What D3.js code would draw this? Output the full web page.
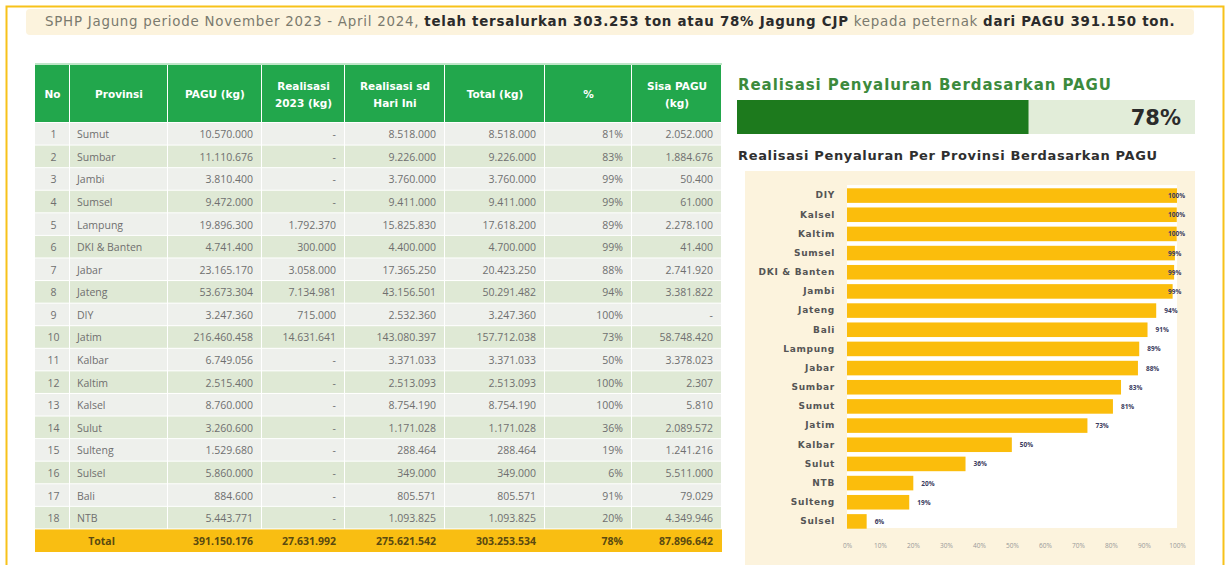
<!DOCTYPE html>
<meta charset="utf-8">
<html>
<head>
<title>SPHP Jagung</title>
<script src="https://cdn.jsdelivr.net/npm/d3@7"></script>
<style>
  body { margin: 0; background: #fff; }
  svg { display: block; font-family: "Open Sans", "DejaVu Sans", sans-serif; }
</style>
</head>
<body>
<script>

// table data (kg)
var provinsi = ["Sumut", "Sumbar", "Jambi", "Sumsel", "Lampung", "DKI & Banten", "Jabar", "Jateng", "DIY",
                "Jatim", "Kalbar", "Kaltim", "Kalsel", "Sulut", "Sulteng", "Sulsel", "Bali", "NTB"];
var pagu = [10570000, 11110676, 3810400, 9472000, 19896300, 4741400, 23165170, 53673304, 3247360,
            216460458, 6749056, 2515400, 8760000, 3260600, 1529680, 5860000, 884600, 5443771];
var realisasi2023 = [null, null, null, null, 1792370, 300000, 3058000, 7134981, 715000,
                     14631641, null, null, null, null, null, null, null, null];
var realisasiSd = [8518000, 9226000, 3760000, 9411000, 15825830, 4400000, 17365250, 43156501, 2532360,
                   143080397, 3371033, 2513093, 8754190, 1171028, 288464, 349000, 805571, 1093825];
var totalKg = [8518000, 9226000, 3760000, 9411000, 17618200, 4700000, 20423250, 50291482, 3247360,
               157712038, 3371033, 2513093, 8754190, 1171028, 288464, 349000, 805571, 1093825];
var persen = [81, 83, 99, 99, 89, 99, 88, 94, 100, 73, 50, 100, 100, 36, 19, 6, 91, 20];
var sisaPagu = [2052000, 1884676, 50400, 61000, 2278100, 41400, 2741920, 3381822, null,
                58748420, 3378023, 2307, 5810, 2089572, 1241216, 5511000, 79029, 4349946];
var totalRow = [391150176, 27631992, 275621542, 303253534, 78, 87896642];

var headers = [["No"], ["Provinsi"], ["PAGU (kg)"], ["Realisasi", "2023 (kg)"], ["Realisasi sd", "Hari Ini"],
               ["Total (kg)"], ["%"], ["Sisa PAGU", "(kg)"]];
var xTicks = [0, 0.1, 0.2, 0.3, 0.4, 0.5, 0.6, 0.7, 0.8, 0.9, 1];

var width = 1227, height = 565;
var wide = "\"DejaVu Sans\", sans-serif";
var idn = d3.formatLocale({decimal: ",", thousands: ".", grouping: [3], currency: ["", ""]});
var fmt = function(v) { return v == null ? "-" : idn.format(",")(v); };

// stretch a text to a given width with letter-spacing
function fit(sel, target) {
    var w = sel.node().getComputedTextLength();
    var n = sel.text().length;
    sel.attr("letter-spacing", ((target - w) / n).toFixed(2));
}

var svg = d3.select("body").append("svg")
    .attr("width", width)
    .attr("height", height);

// outer frame
svg.append("path")
    .attr("d", "M6.5," + height + "V6.5H1223.5V" + height)
    .attr("fill", "none")
    .attr("stroke", "#f7c21a")
    .attr("stroke-width", 2);

// banner
svg.append("rect")
    .attr("x", 26).attr("y", 9).attr("width", 1168).attr("height", 26).attr("rx", 4)
    .attr("fill", "#fcf3dd");

var banner = svg.append("text")
    .attr("x", 45).attr("y", 26)
    .style("font-size", "13.4px")
    .style("font-family", wide)
    .attr("fill", "#7a7a6e");
banner.append("tspan").text("SPHP Jagung periode November 2023 - April 2024, ");
banner.append("tspan").attr("font-weight", "bold").attr("fill", "#2b2b2b")
    .text("telah tersalurkan 303.253 ton atau 78% Jagung CJP");
banner.append("tspan").text(" kepada peternak ");
banner.append("tspan").attr("font-weight", "bold").attr("fill", "#2b2b2b")
    .text("dari PAGU 391.150 ton.");
fit(banner, 1130);

// ---------- table ----------
var colEdges = [35, 70, 168, 262, 345, 445, 545, 632, 722];
var headerTop = 65, headerBottom = 123;

var rowScale = d3.scaleBand()
    .domain(d3.range(provinsi.length + 1))
    .range([headerBottom, 552])
    .paddingInner(0);

var table = svg.append("g");

table.append("rect")
    .attr("x", colEdges[0]).attr("y", headerTop - 2)
    .attr("width", colEdges[8] - colEdges[0]).attr("height", 2)
    .attr("fill", "#bfe6c8");

table.selectAll(".hcell")
    .data(headers)
    .enter().append("rect")
    .attr("x", function(d, i) { return colEdges[i]; })
    .attr("y", headerTop)
    .attr("width", function(d, i) { return colEdges[i + 1] - colEdges[i] - 1; })
    .attr("height", headerBottom - headerTop - 1)
    .attr("fill", "#22a74c");

table.selectAll(".htext")
    .data(headers)
    .enter().append("text")
    .attr("text-anchor", "middle")
    .attr("fill", "#fff")
    .attr("font-weight", "bold")
    .style("font-size", "10.5px")
    .style("font-family", wide)
    .each(function(d, i) {
        var cx = (colEdges[i] + colEdges[i + 1]) / 2;
        var cy = (headerTop + headerBottom) / 2;
        d3.select(this).selectAll("tspan")
            .data(d)
            .enter().append("tspan")
            .attr("x", cx)
            .attr("y", function(t, j) { return cy + 4 + (j - (d.length - 1) / 2) * 17; })
            .text(function(t) { return t; });
    });

var rows = provinsi.map(function(p, i) {
    return [String(i + 1), p, fmt(pagu[i]), fmt(realisasi2023[i]), fmt(realisasiSd[i]),
            fmt(totalKg[i]), persen[i] + "%", fmt(sisaPagu[i])];
});

var rowG = table.selectAll(".row")
    .data(rows)
    .enter().append("g")
    .attr("transform", function(d, i) { return "translate(0," + rowScale(i) + ")"; });

rowG.selectAll("rect")
    .data(function(d, i) { return d.map(function(v) { return i; }); })
    .enter().append("rect")
    .attr("x", function(d, j) { return colEdges[j]; })
    .attr("width", function(d, j) { return colEdges[j + 1] - colEdges[j] - 1; })
    .attr("height", rowScale.bandwidth() - 1)
    .attr("fill", function(d) { return d % 2 == 0 ? "#eef0ec" : "#dfe9d5"; });

rowG.selectAll("text")
    .data(function(d) { return d; })
    .enter().append("text")
    .attr("x", function(d, j) {
        if (j == 0) return (colEdges[0] + colEdges[1]) / 2 + 1;
        if (j == 1) return colEdges[1] + 7;
        return colEdges[j + 1] - 9;
    })
    .attr("y", rowScale.bandwidth() / 2 + 4)
    .attr("text-anchor", function(d, j) { return j == 0 ? "middle" : j == 1 ? "start" : "end"; })
    .attr("fill", "#6f6f6f")
    .style("font-size", "10.5px")
    .text(function(d) { return d; });

// total row
var tIdx = provinsi.length;
var totalG = table.append("g")
    .datum(["", "Total", fmt(totalRow[0]), fmt(totalRow[1]), fmt(totalRow[2]), fmt(totalRow[3]),
            totalRow[4] + "%", fmt(totalRow[5])])
    .attr("transform", "translate(0," + rowScale(tIdx) + ")");
totalG.append("rect")
    .attr("x", colEdges[0]).attr("width", colEdges[8] - colEdges[0])
    .attr("height", rowScale.bandwidth())
    .attr("fill", "#f9be12");
totalG.selectAll("text")
    .data(function(d) { return d; })
    .enter().append("text")
    .attr("x", function(d, j) { return j == 1 ? (colEdges[0] + colEdges[2]) / 2 : colEdges[j + 1] - 9; })
    .attr("y", rowScale.bandwidth() / 2 + 4)
    .attr("text-anchor", function(d, j) { return j == 1 ? "middle" : "end"; })
    .attr("fill", "#5a4a10")
    .attr("font-weight", "bold")
    .style("font-size", "10.5px")
    .text(function(d) { return d; });

// ---------- right panel ----------
var right = svg.append("g");

var title = right.append("text")
    .attr("x", 738).attr("y", 90)
    .attr("fill", "#3c8a3c")
    .attr("font-weight", "bold")
    .style("font-size", "15px")
    .style("font-family", wide)
    .text("Realisasi Penyaluran Berdasarkan PAGU");
fit(title, 374);

var progX = d3.scaleLinear().domain([0, 1]).range([737, 1113]);
var overall = totalRow[3] / totalRow[0];

right.append("rect")
    .attr("x", 737).attr("y", 100).attr("width", 1195 - 737).attr("height", 34)
    .attr("fill", "#e2edd9");
right.append("rect")
    .attr("x", progX(0)).attr("y", 100)
    .attr("width", progX(overall) - progX(0)).attr("height", 34)
    .attr("fill", "#1d7a1d");
right.append("text")
    .attr("x", 1181).attr("y", 125)
    .attr("text-anchor", "end")
    .attr("font-weight", "bold")
    .attr("fill", "#2b2b2b")
    .style("font-size", "21px")
    .style("font-family", wide)
    .text(d3.format(".0%")(overall));

var subtitle = right.append("text")
    .attr("x", 738).attr("y", 160)
    .attr("fill", "#2f2f2f")
    .attr("font-weight", "bold")
    .style("font-size", "13px")
    .style("font-family", wide)
    .text("Realisasi Penyaluran Per Provinsi Berdasarkan PAGU");
fit(subtitle, 420);

// bar chart
right.append("rect")
    .attr("x", 745).attr("y", 171).attr("width", 450).attr("height", height - 171)
    .attr("fill", "#fcf3dd");

var barData = provinsi.map(function(p, i) {
    return {name: p, ratio: totalKg[i] / pagu[i], label: persen[i] + "%"};
}).sort(function(a, b) { return b.ratio - a.ratio; });

var x = d3.scaleLinear().domain([0, 1]).range([847, 1177]);
var y = d3.scaleBand()
    .domain(barData.map(function(d) { return d.name; }))
    .range([186, 531])
    .paddingInner(0.24)
    .paddingOuter(0.12);

right.append("rect")
    .attr("x", x(0)).attr("y", 185)
    .attr("width", x(1) - x(0)).attr("height", 528 - 185)
    .attr("fill", "#fff");

right.append("g").selectAll("rect")
    .data(barData)
    .enter().append("rect")
    .attr("x", x(0))
    .attr("y", function(d) { return y(d.name); })
    .attr("width", function(d) { return x(d.ratio) - x(0); })
    .attr("height", y.bandwidth())
    .attr("fill", "#fbbd0c");

right.append("g").selectAll("text")
    .data(barData)
    .enter().append("text")
    .attr("x", function(d) { return Math.min(x(d.ratio) + 8, 1168); })
    .attr("y", function(d) { return y(d.name) + y.bandwidth() / 2 + 2.5; })
    .attr("fill", "#3b3b5e")
    .attr("font-weight", "bold")
    .style("font-size", "6.5px")
    .text(function(d) { return d.label; });

var yAxis = right.append("g")
    .attr("transform", "translate(" + (x(0) - 12) + ",0)")
    .call(d3.axisLeft(y).tickSize(0).tickPadding(0));
yAxis.select(".domain").remove();
yAxis.selectAll("text")
    .attr("fill", "#555")
    .attr("font-weight", "bold")
    .style("font-size", "9px")
    .style("font-family", wide)
    .attr("letter-spacing", 0.7);

var xAxis = right.append("g")
    .attr("transform", "translate(0,540)")
    .call(d3.axisBottom(x).tickValues(xTicks).tickFormat(d3.format(".0%")).tickSize(0));
xAxis.select(".domain").remove();
xAxis.selectAll("text")
    .attr("fill", "#999")
    .style("font-size", "6.5px")
    .style("font-family", "\"Open Sans\", sans-serif");

</script>
</body>
</html>
